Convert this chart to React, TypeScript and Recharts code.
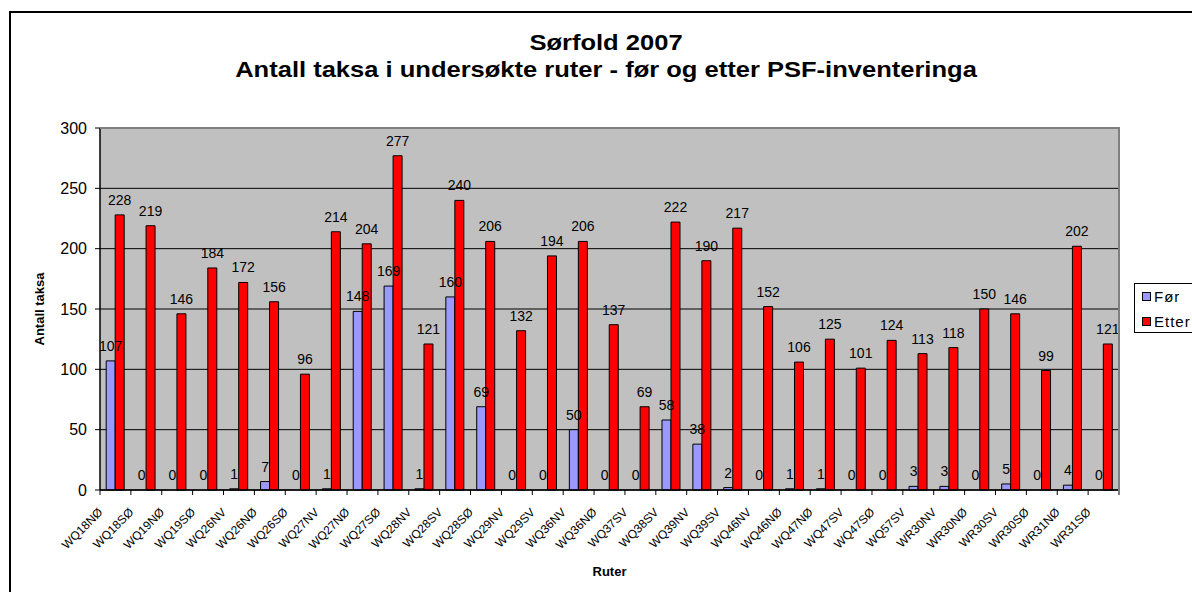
import { BarChart, Bar, XAxis, YAxis, CartesianGrid, LabelList, Label, Cell } from "recharts";

const FONT = "'Liberation Sans', Arial, sans-serif";

const ROUTES = [
  "WQ18NØ", "WQ18SØ", "WQ19NØ", "WQ19SØ", "WQ26NV", "WQ26NØ", "WQ26SØ",
  "WQ27NV", "WQ27NØ", "WQ27SØ", "WQ28NV", "WQ28SV", "WQ28SØ", "WQ29NV",
  "WQ29SV", "WQ36NV", "WQ36NØ", "WQ37SV", "WQ38SV", "WQ39NV", "WQ39SV",
  "WQ46NV", "WQ46NØ", "WQ47NØ", "WQ47SV", "WQ47SØ", "WQ57SV", "WR30NV",
  "WR30NØ", "WR30SV", "WR30SØ", "WR31NØ", "WR31SØ",
];

const FOR = [
  107, 0, 0, 0, 1, 7, 0, 1, 148, 169, 1, 160, 69, 0, 0, 50, 0, 0, 58, 38, 2,
  0, 1, 1, 0, 0, 3, 3, 0, 5, 0, 4, 0,
];

const ETTER = [
  228, 219, 146, 184, 172, 156, 96, 214, 204, 277, 121, 240, 206, 132, 194,
  206, 137, 69, 222, 190, 217, 152, 106, 125, 101, 124, 113, 118, 150, 146,
  99, 202, 121,
];

const Y_TICKS = [0, 50, 100, 150, 200, 250, 300];

const data = ROUTES.map((rute, i) => ({ rute, for: FOR[i], etter: ETTER[i] }));

// excel style: tick marks between categories, labels slanted
function RouteTick(props: any) {
  const { x, y, payload, index } = props;
  const half = payload?.offset || 1019 / ROUTES.length / 2;
  const tx = x - 12;
  const ty = y + 23;
  return (
    <g>
      <line x1={x - half} y1={y} x2={x - half} y2={y + 5} stroke="#000" />
      {index === ROUTES.length - 1 && (
        <line x1={x + half} y1={y} x2={x + half} y2={y + 5} stroke="#000" />
      )}
      <text
        x={tx}
        y={ty}
        transform={`rotate(-45, ${tx}, ${ty})`}
        textAnchor="end"
        fontSize={12}
        fontFamily={FONT}
        fill="#000"
      >
        {payload.value}
      </text>
    </g>
  );
}

// zero values still need their "0" label, so give them a hair of height
const zeroSize = (v: number) => (v === 0 ? 0.2 : 0);

export default function App() {
  return (
    <div
      style={{
        position: "absolute",
        left: 0,
        top: 0,
        width: 1192,
        height: 592,
        overflow: "hidden",
        background: "#fff",
        fontFamily: FONT,
      }}
    >
      <div
        style={{
          position: "absolute",
          left: 9,
          top: 11,
          width: 1400,
          height: 800,
          borderLeft: "2px solid #000",
          borderTop: "2px solid #000",
        }}
      />

      <div
        style={{
          position: "absolute",
          left: 0,
          top: 29,
          width: 1212,
          textAlign: "center",
          fontWeight: "bold",
          fontSize: 22,
          lineHeight: "27px",
          transform: "scaleX(1.16)",
          transformOrigin: "606px 0",
        }}
      >
        <div>Sørfold 2007</div>
        <div>Antall taksa i undersøkte ruter - før og etter PSF-inventeringa</div>
      </div>

      <div style={{ position: "absolute", left: 0, top: 0 }}>
        <BarChart
          width={1192}
          height={592}
          data={data}
          margin={{ top: 128, right: 73, bottom: 0, left: 0 }}
          barCategoryGap="20%"
          barGap={0}
        >
          <CartesianGrid vertical={false} stroke="#000" fill="#C0C0C0" />
          <XAxis
            dataKey="rute"
            height={102}
            interval={0}
            tickLine={false}
            tickSize={0}
            tickMargin={0}
            axisLine={{ stroke: "#000", strokeWidth: 1.5 }}
            tick={<RouteTick />}
          >
            <Label
              content={({ viewBox }: any) => (
                <text
                  x={viewBox.x + viewBox.width / 2}
                  y={576}
                  textAnchor="middle"
                  fontSize={13}
                  fontWeight="bold"
                  fontFamily={FONT}
                >
                  Ruter
                </text>
              )}
            />
          </XAxis>
          <YAxis
            width={100}
            domain={[0, 300]}
            ticks={Y_TICKS}
            interval={0}
            tickSize={5}
            tickMargin={8}
            axisLine={{ stroke: "#000", strokeWidth: 1.5 }}
            tickLine={{ stroke: "#000" }}
            tick={{ fill: "#000", fontSize: 16, fontFamily: FONT }}
          >
            <Label
              content={({ viewBox }: any) => (
                <text
                  x={39}
                  y={viewBox.y + viewBox.height / 2}
                  transform={`rotate(-90, 39, ${viewBox.y + viewBox.height / 2})`}
                  textAnchor="middle"
                  dominantBaseline="central"
                  fontSize={13}
                  fontWeight="bold"
                  fontFamily={FONT}
                >
                  Antall taksa
                </text>
              )}
            />
          </YAxis>
          <Bar
            dataKey="for"
            fill="#9999FF"
            stroke="#000"
            strokeWidth={1}
            minPointSize={zeroSize}
            isAnimationActive={false}
          >
            {FOR.map((v, i) => (
              <Cell key={i} stroke={v === 0 ? "none" : "#000"} />
            ))}
            <LabelList dataKey="for" position="top" offset={10} fill="#000" fontSize={14} fontFamily={FONT} />
          </Bar>
          <Bar dataKey="etter" fill="#FF0000" stroke="#000" strokeWidth={1} isAnimationActive={false}>
            <LabelList dataKey="etter" position="top" offset={10} fill="#000" fontSize={14} fontFamily={FONT} />
          </Bar>
        </BarChart>
      </div>

      {/* plot frame, top and right */}
      <div
        style={{
          position: "absolute",
          left: 100,
          top: 127,
          width: 1018,
          height: 363,
          borderTop: "2px solid #808080",
          borderRight: "2px solid #808080",
          pointerEvents: "none",
        }}
      />

      <div
        style={{
          position: "absolute",
          left: 1134,
          top: 283,
          width: 80,
          height: 48,
          border: "1px solid #000",
          background: "#fff",
          fontSize: 15,
          letterSpacing: 1,
        }}
      >
        {[
          { name: "Før", color: "#9999FF" },
          { name: "Etter", color: "#FF0000" },
        ].map((item, i) => (
          <div
            key={i}
            style={{ position: "absolute", left: 7, top: 4 + i * 25, display: "flex", alignItems: "center", gap: 3 }}
          >
            <div style={{ width: 7, height: 7, border: "1px solid #000", background: item.color }} />
            <span>{item.name}</span>
          </div>
        ))}
      </div>
    </div>
  );
}
